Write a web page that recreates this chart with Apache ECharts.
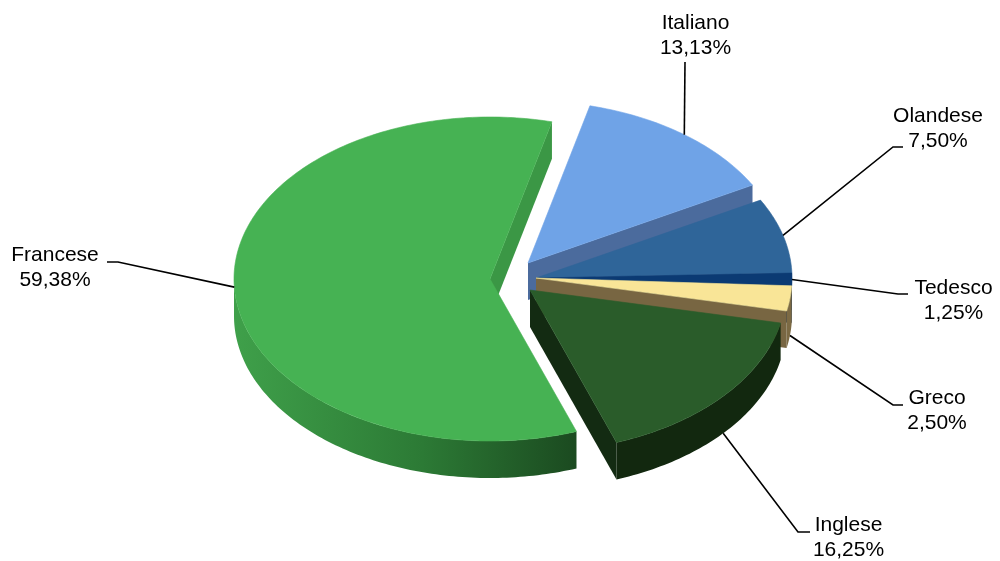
<!DOCTYPE html>
<html>
<head>
<meta charset="utf-8">
<script src="https://cdn.jsdelivr.net/npm/echarts@6/dist/echarts.min.js"></script>
<style>
  html, body { margin: 0; padding: 0; background: #ffffff; }
  #chart { width: 1000px; height: 561px; }
</style>
</head>
<body>
<div id="chart"></div>
<script>
// Lingue: quota percentuale per lingua
const languages = ['Italiano', 'Olandese', 'Tedesco', 'Greco', 'Inglese', 'Francese'];
const shares = [13.13, 7.50, 1.25, 2.50, 16.25, 59.38];

// Colours per slice: top face, outer wall, cut wall
const topColors = {
  Italiano: '#6FA3E7', Olandese: '#2F6599', Tedesco: '#0B3A73',
  Greco: '#F9E597', Inglese: '#2A5C2A', Francese: '#46B253'
};
const wallColors = {
  Italiano: '#4A6A9C', Olandese: '#26537F', Tedesco: '#082B57',
  Greco: '#7C6A44', Inglese: '#12280F',
  Francese: { type: 'linear', x: 0, y: 0, x2: 1, y2: 0, colorStops: [
    { offset: 0, color: '#3FA04A' }, { offset: 0.55, color: '#2C7A35' }, { offset: 1, color: '#1B4A20' }
  ] }
};
const cutColors = {
  Italiano: '#4B6B9D', Olandese: '#26537F', Tedesco: '#082B57',
  Greco: '#786642', Inglese: '#132B12', Francese: '#3B9745'
};

// Elliptical 3D pie geometry (pixels)
const pie = { cx: 536, cy: 278, rx: 256, ry: 162, depth: 37, startAngle: 14 };
// Exploded slices: screen shift of each slice
const sliceShift = {
  Italiano: [-8, -15], Olandese: [0, 0], Tedesco: [0, 0],
  Greco: [0, 0], Inglese: [-6, 12], Francese: [-46, 1]
};
// Label placement: text block centre, leader path after the anchor, anchor on wall bottom
const labelLayout = {
  Italiano: { at: [695.5, 35.5], path: [[685, 62]], onWall: false },
  Olandese: { at: [938, 129], path: [[893, 147], [903, 147]], onWall: false },
  Tedesco:  { at: [953.5, 300.5], path: [[898, 294], [908, 294]], onWall: false },
  Greco:    { at: [937, 411], path: [[893, 405], [903, 405]], onWall: true },
  Inglese:  { at: [848.5, 537.5], path: [[798, 532], [810, 532]], onWall: true },
  Francese: { at: [55, 268], path: [[118, 262], [107, 262]], onWall: false }
};

const total = shares.reduce((a, b) => a + b, 0);
const startAngles = [];
let acc = pie.startAngle;
shares.forEach(v => { startAngles.push(acc); acc += v / total * 360; });

function centerOf(i) {
  const sh = sliceShift[languages[i]];
  return [pie.cx + sh[0], pie.cy + sh[1]];
}
function proj(c, deg, drop) {
  const t = deg * Math.PI / 180;
  return [c[0] + pie.rx * Math.sin(t), c[1] - pie.ry * Math.cos(t) + (drop || 0)];
}
function arc(c, a0, a1, drop) {
  const pts = [];
  const n = Math.max(2, Math.ceil(Math.abs(a1 - a0)));
  for (let k = 0; k <= n; k++) pts.push(proj(c, a0 + (a1 - a0) * k / n, drop));
  return pts;
}
function fmt(v) { return v.toFixed(2).replace('.', ',') + '%'; }

// Back-to-front drawing order
const order = shares.map((v, i) => {
  const mid = startAngles[i] + v / total * 180;
  const c = centerOf(i);
  return { i, key: c[1] - pie.ry * Math.cos(mid * Math.PI / 180) * 0.5 };
}).sort((a, b) => a.key - b.key);
const rank = [];
order.forEach((o, r) => { rank[o.i] = r; });

function renderSlice(params, api) {
  const i = params.dataIndex;
  const name = languages[i];
  const v = api.value(0);
  const span = v / total * 360;
  const a0 = startAngles[i], a1 = a0 + span, mid = (a0 + a1) / 2;
  const c = centerOf(i);
  const d = pie.depth;
  const base = rank[i] * 10;
  const children = [];

  // outer wall, front half only
  const s = Math.max(a0, 90), e = Math.min(a1, 270);
  if (e > s) {
    const pts = arc(c, s, e, 0).concat(arc(c, e, s, d));
    children.push({ type: 'polygon', z2: base + 1, shape: { points: pts },
      style: { fill: wallColors[name] } });
  }
  // radial cut walls facing the viewer
  const m = proj(c, mid, 0);
  [a0, a1].forEach(phi => {
    const r = proj(c, phi, 0);
    const ex = r[0] - c[0], ey = r[1] - c[1];
    const cross = ex * (m[1] - c[1]) - ey * (m[0] - c[0]);
    if (cross * ex < 0) {
      children.push({ type: 'polygon', z2: base + 2,
        shape: { points: [c, r, [r[0], r[1] + d], [c[0], c[1] + d]] },
        style: { fill: cutColors[name] } });
    }
  });
  // top face
  children.push({ type: 'polygon', z2: base + 3,
    shape: { points: [c].concat(arc(c, a0, a1, 0)) },
    style: { fill: topColors[name], stroke: topColors[name], lineWidth: 0.6, lineJoin: 'round' } });

  // leader line and label
  const lab = labelLayout[name];
  const anchor = proj(c, mid, lab.onWall ? d : 0);
  children.push({ type: 'polyline', z2: 200,
    shape: { points: [anchor].concat(lab.path) },
    style: { stroke: '#000000', lineWidth: 1.6, fill: null } });
  children.push({ type: 'text', z2: 201, x: lab.at[0], y: lab.at[1],
    style: { text: name + '\n' + fmt(v), fill: '#000000',
      fontSize: 21, fontFamily: '"Liberation Sans", Arial, sans-serif',
      align: 'center', verticalAlign: 'middle', lineHeight: 25 } });

  return { type: 'group', children };
}

const chart = echarts.init(document.getElementById('chart'), null, { renderer: 'canvas' });
chart.setOption({
  backgroundColor: '#ffffff',
  animation: false,
  series: [{
    type: 'custom',
    coordinateSystem: 'none',
    silent: true,
    renderItem: renderSlice,
    data: shares.map((v, i) => ({ name: languages[i], value: [v] }))
  }]
});
</script>
</body>
</html>
